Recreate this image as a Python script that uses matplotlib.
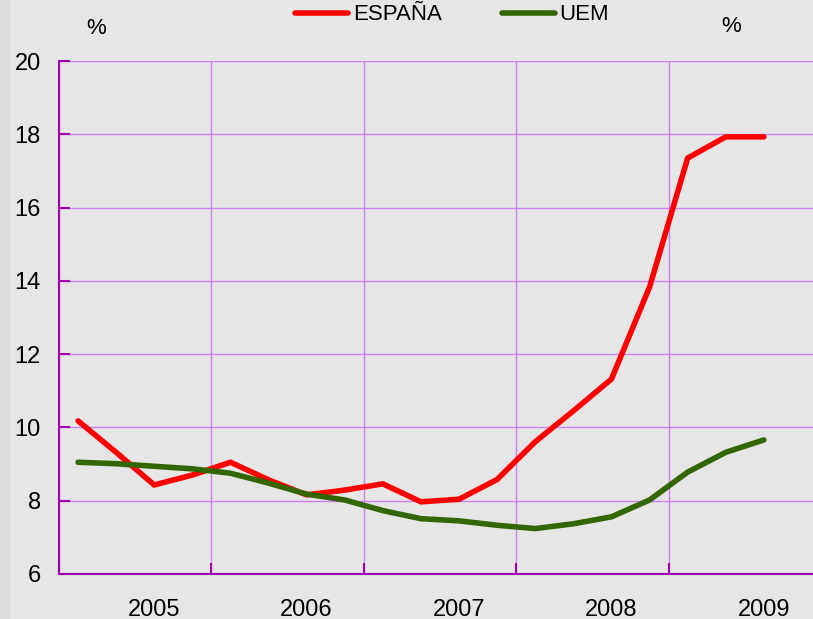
import numpy as np
import matplotlib
matplotlib.use("Agg")
import matplotlib.pyplot as plt
from matplotlib.patches import Rectangle
from matplotlib.lines import Line2D

# quarterly unemployment rate, 2004 Q3 .. 2009 Q1
years = ["2005", "2006", "2007", "2008", "2009"]
espana = [10.18, 9.32, 8.43, 8.70, 9.05, 8.57, 8.16, 8.29, 8.46, 7.97,
          8.04, 8.58, 9.61, 10.45, 11.32, 13.83, 17.35, 17.93, 17.93]
uem = [9.05, 9.01, 8.94, 8.87, 8.75, 8.48, 8.18, 8.02, 7.73, 7.51,
       7.45, 7.33, 7.24, 7.37, 7.56, 8.02, 8.78, 9.32, 9.66]

plt.rcParams['font.family'] = ['Liberation Sans', 'DejaVu Sans']

bg = '#e6e6e6'
grid_c = '#cc80f2'
spine_c = '#a000b0'

fig = plt.figure(figsize=(8.13, 6.19), dpi=100, facecolor=bg)
# darker strip on the far left
fig.patches.append(Rectangle((0, 0), 10 / 813, 1, transform=fig.transFigure,
                             facecolor='#dcdcdc', edgecolor='none', zorder=0))

ax = fig.add_axes([59 / 813, 45 / 619, (821 - 59) / 813, (574 - 61) / 619])
ax.set_facecolor(bg)

x = np.arange(len(espana))
ax.plot(x, espana, color='#ff0000', lw=4, solid_capstyle='round',
        solid_joinstyle='miter', zorder=3)
ax.plot(x, uem, color='#336600', lw=4, solid_capstyle='round',
        solid_joinstyle='miter', zorder=3)

ax.set_xlim(-0.5, 19.5)
ax.set_ylim(6, 20)

# gridlines at year boundaries, labels at first quarter of each year
ax.set_xticks(np.arange(-0.5, 20, 4))
ax.set_xticklabels([])
ax.set_xticks(np.arange(2, 19, 4), minor=True)
ax.set_xticklabels(years, minor=True)
ax.set_yticks(np.arange(6, 21, 2))

ax.tick_params(axis='x', which='major', direction='in', length=8,
               color=spine_c, width=1.5)
ax.tick_params(axis='x', which='minor', length=0, pad=18, labelsize=17)
ax.tick_params(axis='y', direction='in', length=8, color=spine_c, width=1.5,
               labelsize=17, pad=13)

ax.grid(True, which='major', color=grid_c, lw=1.0, zorder=1)
for s in ['top', 'right']:
    ax.spines[s].set_visible(False)
for s in ['left', 'bottom']:
    ax.spines[s].set_color(spine_c)
    ax.spines[s].set_linewidth(1.5)
    ax.spines[s].set_zorder(4)

# % labels
fig.text(96 / 813, 1 - 29 / 619, '%', fontsize=16, ha='center', va='center')
fig.text(731 / 813, 1 - 27 / 619, '%', fontsize=16, ha='center', va='center')

# legend
handles = [Line2D([], [], color='#ff0000', lw=4, solid_capstyle='round'),
           Line2D([], [], color='#336600', lw=4, solid_capstyle='round')]
leg = fig.legend(handles, ['ESPAÑA', 'UEM'], loc='center', ncol=2,
                 bbox_to_anchor=(452 / 813, 1 - 15 / 619), frameon=False,
                 fontsize=16, handlelength=2.4, handletextpad=0.2,
                 columnspacing=2.7)

fig.savefig('out.png', dpi=100, facecolor=bg)
